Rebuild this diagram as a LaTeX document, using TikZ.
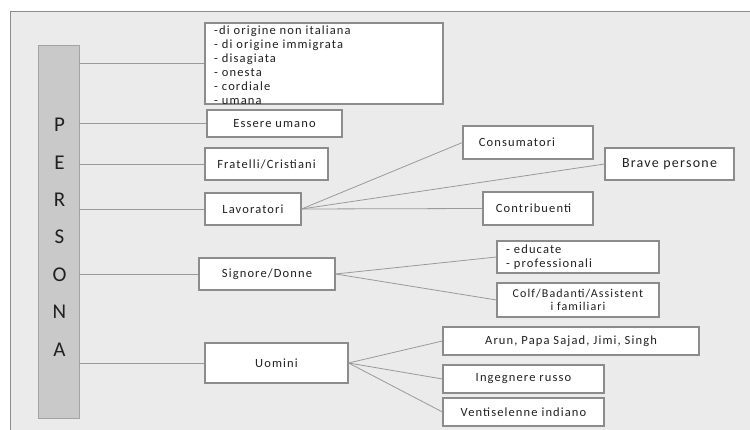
\documentclass[tikz,border=0pt]{standalone}
\usepackage{fontspec}
\setmainfont{Carlito}[LetterSpace=9]
\usepackage{xcolor}
\usetikzlibrary{positioning}
\definecolor{fondo}{HTML}{EBEBEB}
\definecolor{barragrigia}{HTML}{C9C9C9}
\definecolor{bordo}{HTML}{8C8C8C}
\definecolor{linea}{HTML}{9A9A9A}
\definecolor{testo}{HTML}{202020}

\begin{document}
\begin{tikzpicture}[x=1pt,y=-1pt,
		voce/.style={draw=bordo,line width=1.1pt,fill=white,text=testo,inner sep=2pt,
			font=\fontsize{12.5}{13.5}\selectfont,align=center},
		ramo/.style={draw=linea,line width=0.8pt}]
		\useasboundingbox (0,0) rectangle (750,430);
		\fill[white] (0,0) rectangle (750,430);
		\fill[fondo] (10,12) rectangle (750,430);
		\draw[bordo,line width=1pt] (10,430) -- (10,12) -- (750,12);
		\node[draw=bordo!80,fill=barragrigia,minimum width=41,minimum height=373,inner sep=0] (persona) at (58.5,231.5) {};
		\foreach \l [count=\i] in {P,E,R,S,O,N,A}
			\node[text=testo,font=\fontsize{21}{21}\selectfont] (lettera\i) at (59.5,{125+37.4*(\i-1)}) {\l};
		\node[voce,minimum width=238,minimum height=81] (caratteri) at (324,63.5) {};
		\node[anchor=north west,inner sep=0,text=testo,align=left,font=\fontsize{12.5}{14}\selectfont] (elenco) at (214,25.5) {-di origine non italiana\\- di origine immigrata\\- disagiata\\- onesta\\- cordiale\\- umana};
		\node[voce,minimum width=135,minimum height=27] (umano) at (274.5,123.5) {Essere umano};
		\node[voce,minimum width=123,minimum height=32] (fratelli) at (266.5,164) {Fratelli/Cristiani};
		\node[voce,minimum width=96,minimum height=32] (lavoratori) at (253,209) {Lavoratori};
		\node[voce,minimum width=130,minimum height=33] (consumatori) at (528,142.5) {Consumatori\hspace*{22pt}};
		\node[voce,minimum width=129,minimum height=32,font=\fontsize{14}{16}\selectfont] (brave) at (669.5,164) {Brave persone};
		\node[voce,minimum width=110,minimum height=33] (contribuenti) at (538,208.5) {Contribuenti\hspace*{9pt}};
		\node[voce,minimum width=136,minimum height=32] (signore) at (267,274) {Signore/Donne};
		\node[voce,minimum width=162,minimum height=32,text width=144,align=left] (educate) at (578,257) {- educate\\- professionali};
		\node[voce,minimum width=162,minimum height=34,font=\fontsize{12}{13}\selectfont] (colf) at (578,300) {Colf/Badanti/Assistent\\i familiari};
		\node[voce,minimum width=143,minimum height=40] (uomini) at (276.5,363) {Uomini};
		\node[voce,minimum width=256,minimum height=28] (arun) at (571,341) {Arun, Papa Sajad, Jimi, Singh};
		\node[voce,minimum width=161,minimum height=28] (ingegnere) at (523.5,379) {Ingegnere russo};
		\node[voce,minimum width=161,minimum height=28] (ventiselenne) at (523.5,412) {Ventiselenne indiano};
		\foreach \n in {caratteri,umano,fratelli,lavoratori,signore,uomini}
			\draw[ramo] (persona.east |- \n.west) -- (\n.west);
		\foreach \n in {consumatori,brave,contribuenti}
			\draw[ramo] (lavoratori.east) -- (\n.west);
		\foreach \n in {educate,colf}
			\draw[ramo] (signore.east) -- (\n.west);
		\foreach \n in {arun,ingegnere,ventiselenne}
			\draw[ramo] (uomini.east) -- (\n.west);
	\end{tikzpicture}
\end{document}
